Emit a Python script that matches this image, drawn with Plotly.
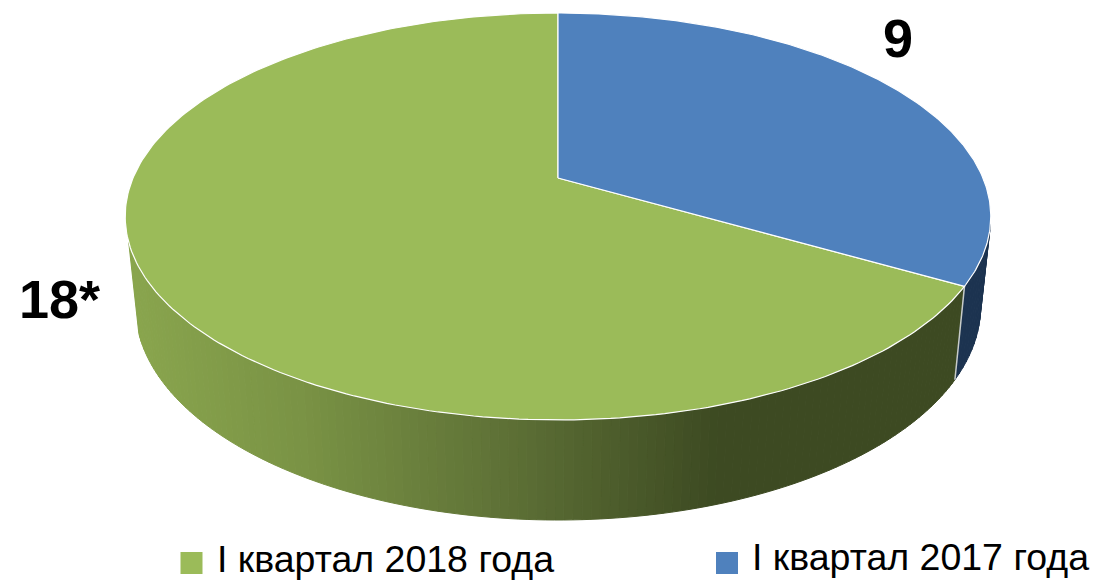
import numpy as np
import plotly.graph_objects as go

categories = ["I квартал 2017 года", "I квартал 2018 года"]
values = [9, 18]
value_labels = ["9", "18*"]
colors = ["#4F81BD", "#9BBB59"]

W, H = 1094, 580
CX = 558
K = 0.189


def project(theta, y0, ax, by):
    denom = 1 + K * np.cos(theta)
    return CX + ax * np.sin(theta) / denom, y0 - by * np.cos(theta) / denom


def top(theta):
    return project(theta, 178, 425, 196.2)


def bottom(theta):
    return project(theta, 266, 415, 206)


def hexrgb(c):
    c = c.lstrip("#")
    return np.array([int(c[i:i + 2], 16) for i in (0, 2, 4)], float)


def green_shade(x):
    xs = [125, 300, 500, 720, 1000]
    stops = ["#8AA64E", "#7A9345", "#5F7237", "#3D4A22", "#3D4A22"]
    rgb = [np.interp(x, xs, [hexrgb(s)[i] for s in stops]) for i in range(3)]
    return "rgb(%d,%d,%d)" % tuple(rgb)


fig = go.Figure()
total = sum(values)
boundaries = np.cumsum([0] + values) / total * 2 * np.pi
split = boundaries[1]


def quad(t0, t1, color):
    tx0, ty0 = top(t0)
    tx1, ty1 = top(t1)
    bx1, by1 = bottom(t1)
    bx0, by0 = bottom(t0)
    fig.add_trace(go.Scatter(
        x=[tx0, tx1, bx1, bx0, tx0], y=[ty0, ty1, by1, by0, ty0],
        mode="lines", fill="toself", fillcolor=color,
        line=dict(color=color, width=1), hoverinfo="skip", showlegend=False))


# outer wall of the 2018 slice
edges = np.linspace(split, np.deg2rad(252), 130)
for a, b in zip(edges[:-1], edges[1:]):
    quad(a, b, green_shade(0.5 * (top(a)[0] + top(b)[0])))

# outer wall of the 2017 slice
edges = np.linspace(np.deg2rad(103), split, 12)
for a, b in zip(edges[:-1], edges[1:]):
    quad(a, b, "#1C3350")

# seam between the two walls
sx0, sy0 = top(split)
sx1, sy1 = bottom(split)
fig.add_trace(go.Scatter(x=[sx0, sx1], y=[sy0, sy1], mode="lines",
                         line=dict(color="#C8CCC8", width=1.5),
                         hoverinfo="skip", showlegend=False))

# top faces
for i in (1, 0):
    th = np.linspace(boundaries[i], boundaries[i + 1], 240)
    px, py = top(th)
    fig.add_trace(go.Scatter(
        x=np.r_[CX, px, CX], y=np.r_[178, py, 178],
        mode="lines", fill="toself", fillcolor=colors[i],
        line=dict(color="#FFFFFF", width=1.2),
        hoverinfo="skip", showlegend=False))

# legend
legend_pos = {"I квартал 2018 года": (191.5, 563, 215, 558.5),
              "I квартал 2017 года": (727, 563, 750, 557)}
for name, col in zip(categories, colors):
    mx, my, tx, ty = legend_pos[name]
    fig.add_trace(go.Scatter(x=[mx], y=[my], mode="markers",
                             marker=dict(symbol="square", size=22, color=col, line=dict(width=0)),
                             hoverinfo="skip", showlegend=False))
    fig.add_annotation(x=tx, y=ty, text=name, showarrow=False, xanchor="left", yanchor="middle",
                       font=dict(family="Liberation Sans", size=37.5, color="#000000"))

# value labels
label_pos = [(898, 38), (59, 299)]
for lab, (lx, ly) in zip(value_labels, label_pos):
    fig.add_annotation(x=lx, y=ly, text="<b>%s</b>" % lab, showarrow=False,
                       font=dict(family="Liberation Sans", size=54, color="#000000"))

fig.update_xaxes(range=[0, W], visible=False, fixedrange=True)
fig.update_yaxes(range=[H, 0], visible=False, fixedrange=True)
fig.update_layout(width=W, height=H, margin=dict(l=0, r=0, t=0, b=0),
                  paper_bgcolor="#FFFFFF", plot_bgcolor="#FFFFFF", showlegend=False)
fig.write_html("out.html", config={"displayModeBar": False},
               post_script="document.body.style.margin='0';document.body.style.overflow='hidden';")
